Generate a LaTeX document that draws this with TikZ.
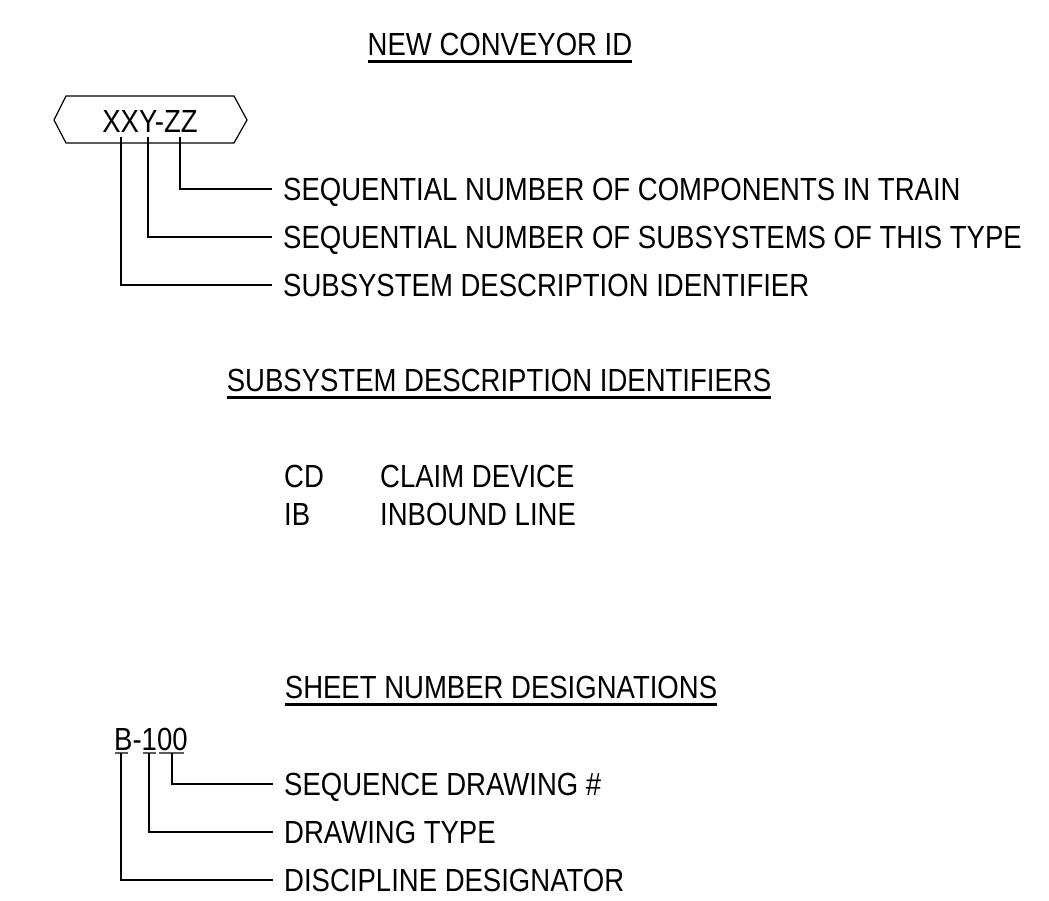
\documentclass[tikz,border=0pt]{standalone}
\usepackage{fontspec}
\setmainfont{Liberation Sans}[FakeStretch=0.86]
\begin{document}
\begin{tikzpicture}[x=1pt,y=-1pt,
  every node/.style={inner sep=0pt,font=\fontsize{32pt}{36pt}\selectfont},
  title/.style={anchor=base},
  uline/.style={line width=3pt},
  lab/.style={anchor=west,text height=23pt,text depth=0pt},
  leader/.style={line width=1.2pt},
  tick/.style={line width=1.3pt,black!65}]
\useasboundingbox (0,0) rectangle (1049,901);
% Section 1
\node[title] (t1) at (500,56) {NEW CONVEYOR ID};
\draw[uline] ([yshift=-6pt]t1.base west) -- ([yshift=-6pt]t1.base east);
\node[anchor=base] (id) at (150,133) {XXY-ZZ};
\draw[leader] (54,120) -- (66,96) -- (234,96) -- (247,120) -- (234,143) -- (66,143) -- cycle;
\coordinate (a1) at (121,137);
\coordinate (a2) at (148,137);
\coordinate (a3) at (180,137);
\node[lab] (l1) at (283,189) {SEQUENTIAL NUMBER OF COMPONENTS IN TRAIN};
\node[lab] (l2) at (283,237) {SEQUENTIAL NUMBER OF SUBSYSTEMS OF THIS TYPE};
\node[lab] (l3) at (283,285) {SUBSYSTEM DESCRIPTION IDENTIFIER};
\draw[leader] (a3) |- ([xshift=-11pt]l1.west);
\draw[leader] (a2) |- ([xshift=-11pt]l2.west);
\draw[leader] (a1) |- ([xshift=-11pt]l3.west);
% Section 2
\node[title] (t2) at (499,391.5) {SUBSYSTEM DESCRIPTION IDENTIFIERS};
\draw[uline] ([yshift=-6pt]t2.base west) -- ([yshift=-6pt]t2.base east);
\node[anchor=base west] (cd) at (284,487) {CD};
\node[anchor=base west] (cdt) at (380,487) {CLAIM DEVICE};
\node[anchor=base west] (ib) at (284,525) {IB};
\node[anchor=base west] (ibt) at (380,525) {INBOUND LINE};
% Section 3
\node[title] (t3) at (501,698) {SHEET NUMBER DESIGNATIONS};
\draw[uline] ([yshift=-6pt]t3.base west) -- ([yshift=-6pt]t3.base east);
\node[anchor=base west] (sn) at (114,750) {B-100};
\draw[tick] (115,753) -- (128,753);
\draw[tick] (143,753) -- (156,753);
\draw[tick] (159,753) -- (184,753);
\coordinate (b1) at (121,753);
\coordinate (b2) at (149,753);
\coordinate (b3) at (172,753);
\node[lab] (m1) at (284,784) {SEQUENCE DRAWING \#};
\node[lab] (m2) at (284,832) {DRAWING TYPE};
\node[lab] (m3) at (284,880) {DISCIPLINE DESIGNATOR};
\draw[leader] (b3) |- ([xshift=-11pt]m1.west);
\draw[leader] (b2) |- ([xshift=-11pt]m2.west);
\draw[leader] (b1) |- ([xshift=-11pt]m3.west);
\end{tikzpicture}
\end{document}
